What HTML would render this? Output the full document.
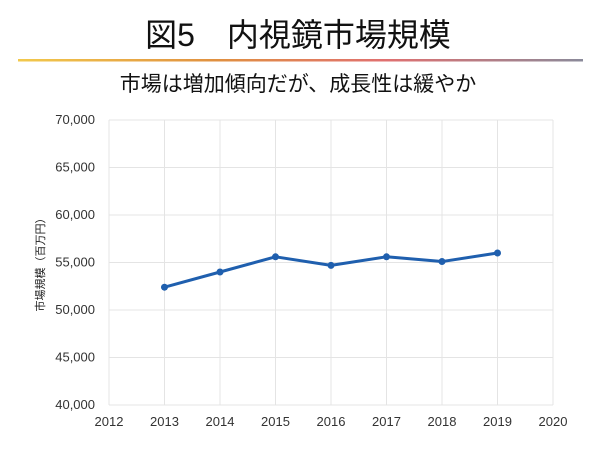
<!DOCTYPE html>
<html><head><meta charset="utf-8"><style>
body{margin:0;background:#fff;font-family:"Liberation Sans","Noto Sans CJK JP",sans-serif;}
</style></head><body>
<svg width="600" height="450" xmlns="http://www.w3.org/2000/svg">
<defs><linearGradient id="g" x1="0" x2="1"><stop offset="0" stop-color="#f2c94c"/><stop offset="0.35" stop-color="#e09040"/><stop offset="0.65" stop-color="#e07070"/><stop offset="1" stop-color="#8a8a9a"/></linearGradient></defs>
<text x="298" y="46" text-anchor="middle" font-size="32" fill="#111" font-family="Liberation Sans, Noto Sans CJK JP, sans-serif">図5　内視鏡市場規模</text>
<rect x="18" y="59" width="565" height="2.5" fill="url(#g)"/>
<text x="298" y="91" text-anchor="middle" font-size="21" fill="#111" font-family="Liberation Sans, Noto Sans CJK JP, sans-serif">市場は増加傾向だが、成長性は緩やか</text>
<g id="grid"></g>
<g id="axes"></g>
<text transform="translate(44,262) rotate(-90)" text-anchor="middle" font-size="11" fill="#222" font-family="Liberation Sans, Noto Sans CJK JP, sans-serif">市場規模（百万円）</text>
<g id="series"></g>
</svg>
<script>
const years=[2013,2014,2015,2016,2017,2018,2019];
const values=[52400,54000,55600,54700,55600,55100,56000];
const xTicks=[2012,2013,2014,2015,2016,2017,2018,2019,2020];
const yTicks=[40000,45000,50000,55000,60000,65000,70000];
const X0=109,X1=553,Y0=405,Y1=120;
const xs=v=>X0+(v-2012)/8*(X1-X0);
const ys=v=>Y0-(v-40000)/30000*(Y0-Y1);
const NS="http://www.w3.org/2000/svg";
function mk(t,a,p){const e=document.createElementNS(NS,t);for(const k in a)e.setAttribute(k,a[k]);p.appendChild(e);return e;}
const grid=document.getElementById('grid'),axes=document.getElementById('axes'),ser=document.getElementById('series');
yTicks.forEach(v=>{
 const l=mk('line',{x1:X0,x2:X1,y1:ys(v),y2:ys(v),stroke:'#e4e4e4','stroke-width':1},grid);
 
 
 const t=mk('text',{x:X0-14,y:ys(v)+4,'text-anchor':'end','font-size':13,fill:'#333'},axes);
 t.textContent=v.toLocaleString('en-US');
 
 
});
xTicks.forEach(v=>{
 const l=mk('line',{x1:xs(v),x2:xs(v),y1:Y1,y2:Y0,stroke:'#e4e4e4','stroke-width':1},grid);
 
 
 const t=mk('text',{x:xs(v),y:Y0+21,'text-anchor':'middle','font-size':13,fill:'#333'},axes);
 t.textContent=v;
 
 
});
const pl=mk('polyline',{points:years.map((y,i)=>xs(y)+','+ys(values[i])).join(' '),fill:'none',stroke:'#1f5fae','stroke-width':3,'stroke-linejoin':'round'},ser);


years.forEach((y,i)=>{
 const c=mk('circle',{cx:xs(y),cy:ys(values[i]),r:3.5,fill:'#1f5fae'},ser);
 
 
});
</script>
</body></html>
